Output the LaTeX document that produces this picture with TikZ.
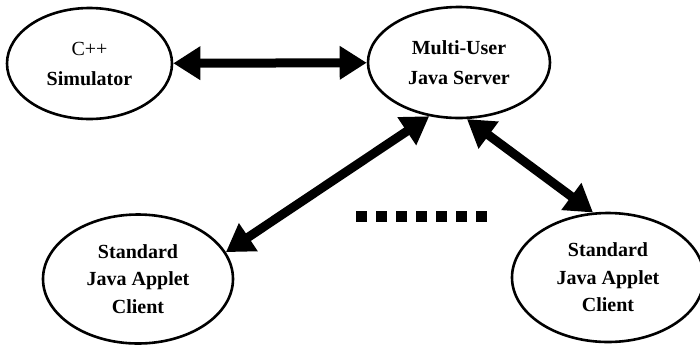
\documentclass[tikz,border=0pt]{standalone}
\usepackage{fontspec}
\setmainfont{Liberation Serif}
\usetikzlibrary{arrows.meta}
\usetikzlibrary{shapes.geometric}

\begin{document}
\begin{tikzpicture}
[x=1pt,y=-1pt,
main node/.style={ellipse,draw,line width=2.6pt,inner sep=0pt,align=center,font=\bfseries\fontsize{20}{30}\selectfont},
client node/.style={main node,minimum width=190pt,minimum height=129pt,font=\bfseries\fontsize{20}{27.5}\selectfont},
link/.style={line width=9pt,{Triangle[length=27pt,width=32pt]}-{Triangle[length=27pt,width=32pt]}}]
\useasboundingbox (0,0) rectangle (700,346);
\node[main node,minimum width=165pt,minimum height=111pt] (sim) at (89.5,63.5) {{\mdseries C++}\\Simulator};
\node[main node,minimum width=182pt,minimum height=111pt] (srv) at (459,62.5) {Multi-User\\Java Server};
\node[client node] (cl1) at (138,279) {Standard\\Java Applet\\Client};
\node[client node,minimum width=192pt] (cl2) at (608,277.5) {Standard\\Java Applet\\Client};
\coordinate (dots start) at (356,216);
\coordinate (dots end) at (487,216);
\path[link]
(sim) edge (srv)
(srv.241) edge (cl1.17)
(srv.278) edge (cl2.103);
\draw[line width=11pt,dash pattern=on 11pt off 9pt] (dots start) -- (dots end);
\end{tikzpicture}
\end{document}
